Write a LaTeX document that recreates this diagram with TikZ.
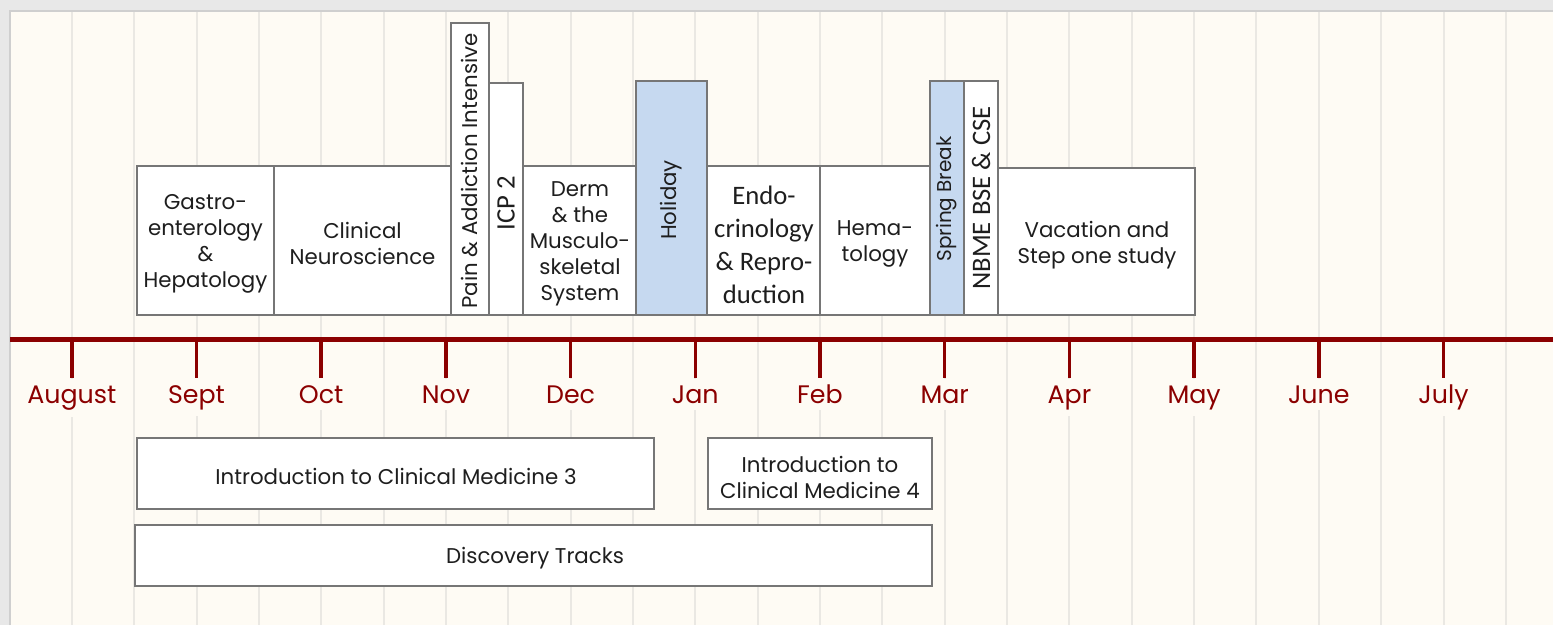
\documentclass[tikz,border=0pt]{standalone}
\usepackage{fontspec}
\setmainfont{Poppins}
\newfontfamily\calibrifont{Carlito}
\usepackage{xcolor}
\definecolor{framegray}{RGB}{232,232,232}
\definecolor{edgegray}{RGB}{207,207,207}
\definecolor{cream}{RGB}{254,251,244}
\definecolor{gridgray}{RGB}{234,232,227}
\definecolor{boxgray}{RGB}{118,118,118}
\definecolor{breakblue}{RGB}{198,217,240}
\definecolor{timered}{RGB}{139,0,0}
\definecolor{inkgray}{RGB}{30,30,30}
\tikzset{
  blockbox/.style={draw=boxgray, line width=1.5pt, fill=white},
  breakbox/.style={blockbox, fill=breakblue},
  boxtext/.style={inner sep=0.75pt, align=center, text=inkgray, font=\fontsize{16}{19.5}\selectfont},
  caltext/.style={boxtext, font=\calibrifont\fontsize{20}{24.75}\selectfont},
  monthtext/.style={anchor=base, inner xsep=3pt, inner ysep=5pt, fill=cream, text=timered, font=\fontsize{19}{22}\selectfont},
}

\begin{document}
\begin{tikzpicture}[x=0.75pt,y=0.75pt,yscale=-1,xscale=1]
\useasboundingbox (0,0) rectangle (1553,625);

%Shape: Rectangle (frame and panel)
\fill[framegray] (0,0) rectangle (1553,625);
\fill[cream] (10,11) rectangle (1553,625);
\draw[edgegray, line width=1.5pt] (10,625) -- (10,11) -- (1553,11);

%Grid: half month lines
\foreach \i in {0,...,23}
  \draw[gridgray, line width=1.5pt] ({71.8+62.35*\i},12) -- ({71.8+62.35*\i},625);

%Shape: Rectangle (top row)
\draw[blockbox] (137,166) rectangle (274,315);
\draw[blockbox] (274,166) rectangle (451,315);
\draw[blockbox] (451,23) rectangle (489,315);
\draw[blockbox] (489,83) rectangle (523,315);
\draw[blockbox] (523,166) rectangle (636,315);
\draw[breakbox] (636,81) rectangle (707,315);
\draw[blockbox] (707,166) rectangle (820,315);
\draw[blockbox] (820,166) rectangle (930,315);
\draw[breakbox] (930,81) rectangle (964,315);
\draw[blockbox] (964,81) rectangle (998,315);
\draw[blockbox] (998,168) rectangle (1195,315);

% Text Node
\node[boxtext] (gastro) at (205.5,244) {Gastro-\\enterology\\\&\\Hepatology};
% Text Node
\node[boxtext] (neuro) at (362.5,243.5) {Clinical\\Neuroscience};
% Text Node
\node[boxtext, rotate=90] (pain) at (470,171) {Pain \& Addiction Intensive};
% Text Node
\node[caltext, rotate=90] (icp) at (506,203) {ICP 2};
% Text Node
\node[boxtext] (derm) at (580,244) {Derm\\\& the\\Musculo-\\skeletal\\System};
% Text Node
\node[boxtext, rotate=90] (holiday) at (671.5,200) {Holiday};
% Text Node
\node[caltext] (endo) at (764,245) {Endo-\\crinology\\\& Repro-\\duction};
% Text Node
\node[boxtext] (hema) at (875,243.5) {Hema-\\tology};
% Text Node
\node[boxtext, rotate=90, font=\fontsize{15}{19.5}\selectfont] (spring) at (947,199) {Spring Break};
% Text Node
\node[caltext, rotate=90] (nbme) at (981,198) {NBME BSE \& CSE};
% Text Node
\node[boxtext] (vacation) at (1097,245) {Vacation and\\Step one study};

%Timeline
\draw[timered, line width=4.2pt] (10,339.5) -- (1553,339.5);
\foreach \m [count=\i from 0] in {August,Sept,Oct,Nov,Dec,Jan,Feb,Mar,Apr,May,June,July} {
  \draw[timered, line width=2.6pt] ({71.8+124.7*\i},339.5) -- ({71.8+124.7*\i},378);
  \node[monthtext] (month\i) at ({71.8+124.7*\i},403) {\m};
}

%Shape: Rectangle (bottom rows)
\draw[blockbox] (137,438) rectangle (654,509);
\draw[blockbox] (708,438) rectangle (932,509);
\draw[blockbox] (135,525) rectangle (932,586);

% Text Node
\node[boxtext] (icm3) at (396,476) {Introduction to Clinical Medicine 3};
% Text Node
\node[boxtext] (icm4) at (820,477.5) {Introduction to\\Clinical Medicine 4};
% Text Node
\node[boxtext] (tracks) at (535,558) {Discovery Tracks};

\end{tikzpicture}
\end{document}
